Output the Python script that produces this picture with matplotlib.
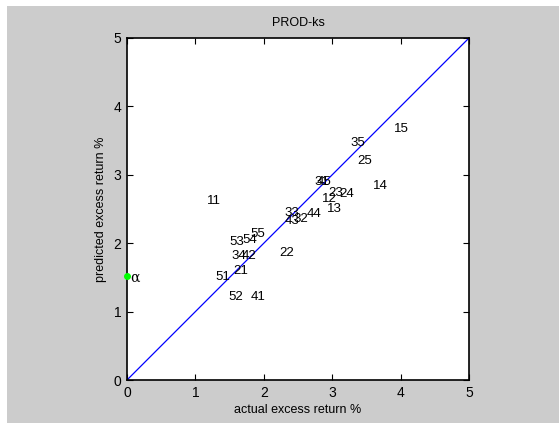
import matplotlib.pyplot as plt
from matplotlib.patches import Rectangle

# portfolio labels and their (actual, predicted) excess returns
labels = ['11', '12', '13', '14', '15',
          '21', '22', '23', '24', '25',
          '31', '32', '33', '34', '35',
          '41', '42', '43', '44', '45',
          '51', '52', '53', '54', '55']
actual = [1.17, 2.85, 2.93, 3.59, 3.90,
          1.55, 2.23, 2.95, 3.11, 3.36,
          2.74, 2.43, 2.30, 1.53, 3.26,
          1.81, 1.68, 2.30, 2.62, 2.78,
          1.29, 1.48, 1.50, 1.68, 1.80]
predicted = [2.61, 2.65, 2.50, 2.84, 3.67,
             1.59, 1.85, 2.73, 2.72, 3.20,
             2.90, 2.35, 2.44, 1.81, 3.47,
             1.22, 1.82, 2.33, 2.43, 2.90,
             1.51, 1.22, 2.02, 2.04, 2.14]
alpha_val = 1.52
ticks = [0, 1, 2, 3, 4, 5]

font = 'Liberation Sans'
W, H = 559, 423
fig = plt.figure(figsize=(W / 100, H / 100), dpi=100, facecolor='white')
# grey figure area with thin white margin on left/top
fig.patches.append(Rectangle((7 / W, 0), 1, 1 - 6 / H, transform=fig.transFigure,
                             facecolor='#cccccc', edgecolor='none', zorder=-1))

ax = fig.add_axes([127 / W, 43 / H, 342 / W, 342 / H])
ax.set_facecolor('white')
ax.plot([0, 5], [0, 5], color='blue', lw=0.9)
ax.plot([0], [alpha_val], 'o', color='#00ff00', ms=4, clip_on=False, zorder=5)
ax.text(0.05, alpha_val - 0.03, 'α', fontsize=10, va='center', ha='left', family='DejaVu Serif')

for lab, x, y in zip(labels, actual, predicted):
    ax.text(x, y, lab, fontsize=9.5, va='center', ha='left', family=font)

ax.set_xlim(0, 5)
ax.set_ylim(0, 5)
ax.set_xticks(ticks)
ax.set_yticks(ticks)
ax.tick_params(direction='in', top=True, right=True, length=4, width=0.8,
               labelsize=10, pad=4)
for t in ax.get_xticklabels() + ax.get_yticklabels():
    t.set_family(font)
for s in ax.spines.values():
    s.set_linewidth(1.2)

ax.set_title('PROD-ks', fontsize=9, family=font, pad=9)
ax.set_xlabel('actual excess return %', fontsize=9, family=font, labelpad=3)
ax.set_ylabel('predicted excess return %', fontsize=9, family=font, labelpad=5)

fig.savefig('out.png', dpi=100, facecolor=fig.get_facecolor())
